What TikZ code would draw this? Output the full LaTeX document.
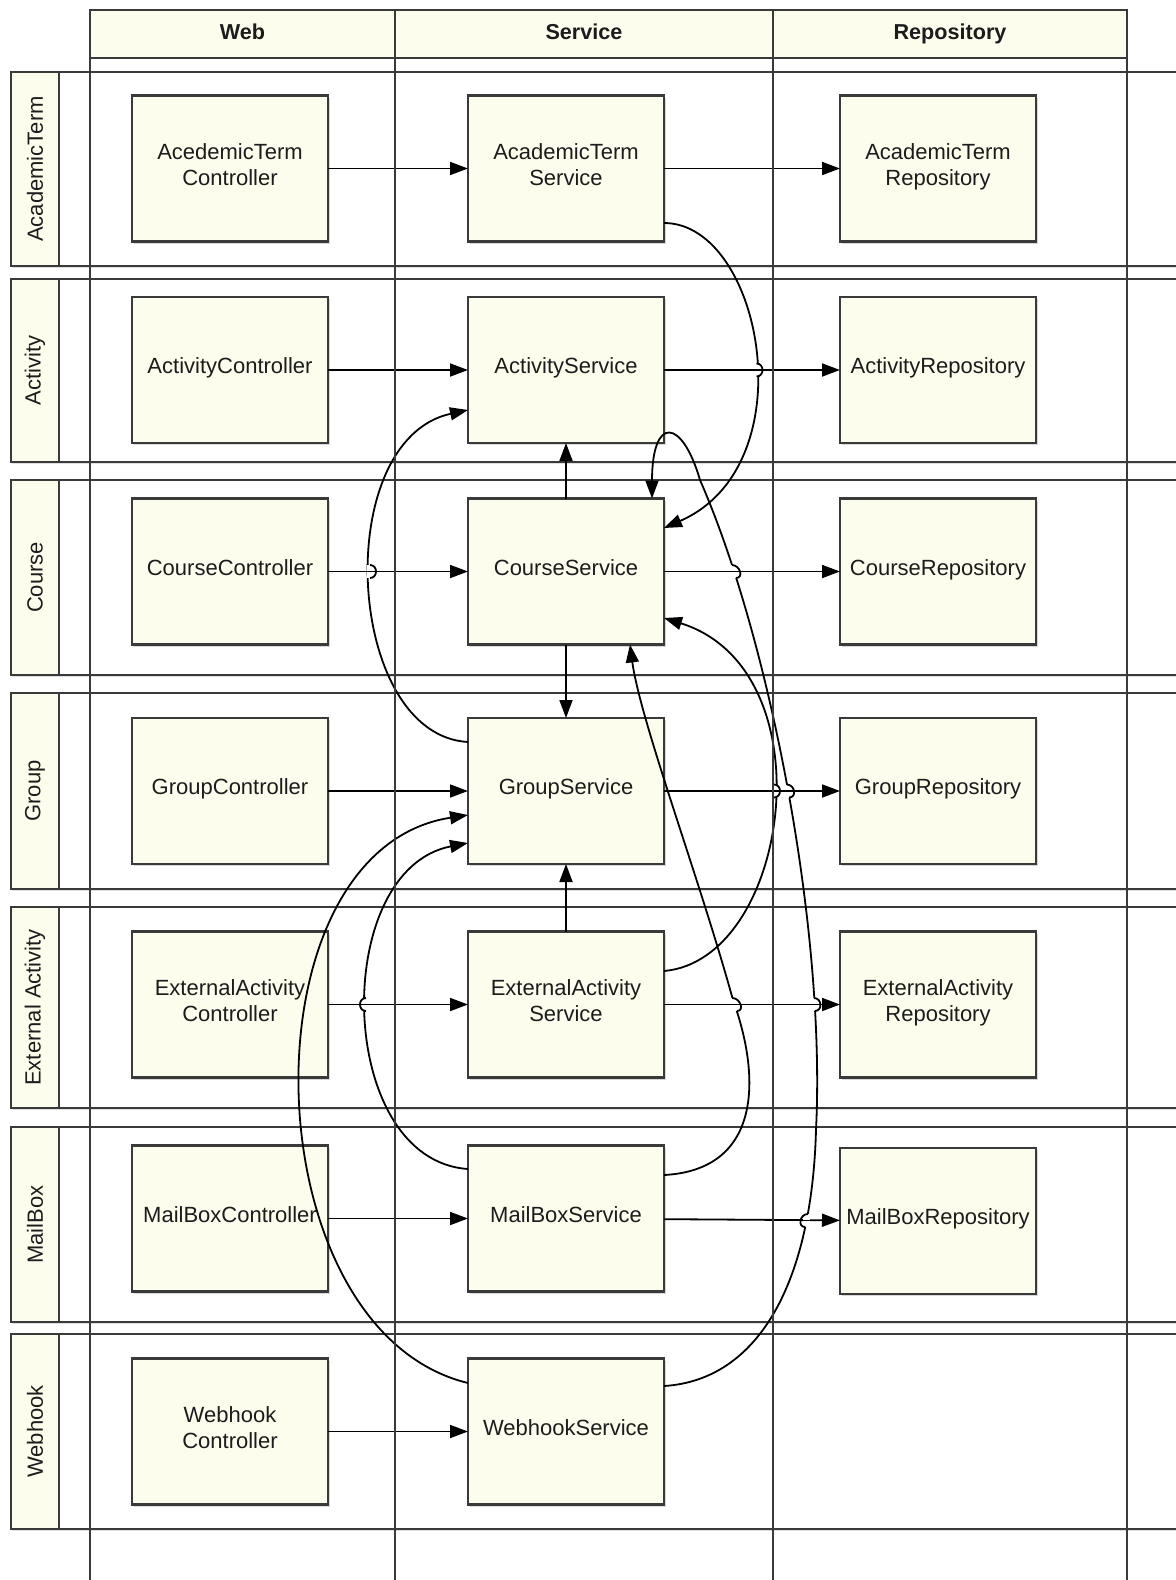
\documentclass[tikz,border=0pt]{standalone}
\usepackage{fontspec}
\setmainfont{Liberation Sans}
\usetikzlibrary{arrows.meta,shadows}

\definecolor{cream}{RGB}{253,253,238}
\definecolor{frame}{RGB}{58,58,58}
\definecolor{ink}{RGB}{28,28,28}

% line jump: #1,#2 = crossing point, #3 = dx/dy of the jumping curve, #4 = side (+1 right, -1 left)
\newcommand\hopmark[4]{%
  \fill[white] ({#1-3.5},{#2-6.5}) rectangle ({#1+3.5},{#2+6.5});
  \draw[wire] ({#1-5},#2) -- ({#1+5},#2);
  \draw[wire] ({#1-6.5*(#3)},{#2-6.5}) .. controls ({#1-6.5*(#3)+8*(#4)},{#2-6.5}) and ({#1+6.5*(#3)+8*(#4)},{#2+6.5}) .. ({#1+6.5*(#3)},{#2+6.5});
}

\begin{document}
\begin{tikzpicture}[x=0.5pt,y=-0.5pt,
  font=\fontsize{11}{13.1}\selectfont, text=ink,
  lane/.style={draw=frame, line width=1pt, fill=white,
    drop shadow={shadow xshift=0.8pt, shadow yshift=-1pt, opacity=0.25}},
  lanetag/.style={draw=frame, line width=1pt, fill=cream},
  comp/.style={draw=frame, line width=1.1pt, fill=cream,
    minimum width=98pt, minimum height=73pt, inner sep=0pt, outer sep=0pt,
    align=center, text depth=4pt,
    drop shadow={shadow xshift=1.2pt, shadow yshift=-1.2pt, opacity=0.3}},
  wire/.style={draw=black, line width=0.9pt},
  flow/.style={wire, -{Triangle[length=9pt,width=6.5pt]}},
  colline/.style={draw=frame, line width=1.1pt},
  headtext/.style={font=\fontsize{10.8}{13}\selectfont\bfseries, text depth=2.3pt}]

\clip (0,0) rectangle (1176,1580);
\fill[white] (0,0) rectangle (1176,1580);

% horizontal swimlanes with their tags
\foreach \t/\b/\lbl [count=\i] in {72/266/AcademicTerm, 279/462/Activity, 480/675/Course,
    693/889/Group, 907/1108/External Activity, 1127/1322/MailBox, 1334/1529/Webhook}{
  \draw[lane] (10.7,\t) rectangle (1200,\b);
  \draw[lanetag] (10.7,\t) rectangle (59.3,\b);
  \node[rotate=90] (lane\i) at (35,{(\t+\b)/2}) {\lbl};
}

% column headers
\draw[colline, fill=cream] (90,10) rectangle (1127,58);
\node[headtext] (hweb)  at (242.5,34) {Web};
\node[headtext] (hsvc)  at (584,34)   {Service};
\node[headtext] (hrepo) at (950,34)   {Repository};

% components
\node[comp] (atc) at (230,168.5) {AcedemicTerm\\Controller};
\node[comp] (ats) at (566,168.5) {AcademicTerm\\Service};
\node[comp] (atr) at (938,168.5) {AcademicTerm\\Repository};

\node[comp] (acc) at (230,370) {ActivityController};
\node[comp] (acs) at (566,370) {ActivityService};
\node[comp] (acr) at (938,370) {ActivityRepository};

\node[comp] (coc) at (230,571.5) {CourseController};
\node[comp] (cos) at (566,571.5) {CourseService};
\node[comp] (cor) at (938,571.5) {CourseRepository};

\node[comp] (grc) at (230,791) {GroupController};
\node[comp] (grs) at (566,791) {GroupService};
\node[comp] (grr) at (938,791) {GroupRepository};

\node[comp] (eac) at (230,1004.5) {ExternalActivity\\Controller};
\node[comp] (eas) at (566,1004.5) {ExternalActivity\\Service};
\node[comp] (ear) at (938,1004.5) {ExternalActivity\\Repository};

\node[comp] (mbc) at (230,1218.5) {MailBoxController};
\node[comp] (mbs) at (566,1218.5) {MailBoxService};
\node[comp] (mbr) at (938,1221) {MailBoxRepository};

\node[comp] (whc) at (230,1431.5) {Webhook\\Controller};
\node[comp] (whs) at (566,1431.5) {WebhookService};

% straight calls
\foreach \a/\b in {atc/ats, ats/atr, acc/acs, acs/acr, coc/cos, cos/cor,
    grc/grs, grs/grr, eac/eas, eas/ear, mbc/mbs, mbs/mbr, whc/whs,
    cos/acs, cos/grs, eas/grs}
  \draw[flow] (\a) -- (\b);

% curved calls between services
\draw[flow] (ats.east |- 0,223) .. controls (762,223) and (808,465) .. (cos.east |- 0,528);
\draw[flow] (whs.east |- 0,1386) .. controls (760,1380) and (812,1280) .. (816,1130)
  .. controls (826,930) and (770,640) .. (700,480)
  .. controls (682,418) and (652,415) .. (cos.north -| 652,0);
\draw[flow] (grs.west |- 0,742) .. controls (345,735) and (330,440) .. (acs.west |- 0,410);
\draw[flow] (eas.east |- 0,971) .. controls (790,960) and (830,670) .. (cos.east |- 0,618);
\draw[flow] (mbs.east |- 0,1175) .. controls (760,1170) and (762,1080) .. (733,1000)
  .. controls (700,880) and (640,720) .. (cos.south -| 630,0);
\draw[flow] (mbs.west |- 0,1169) .. controls (335,1160) and (330,870) .. (grs.west |- 0,843);
\draw[flow] (whs.west |- 0,1383) .. controls (250,1330) and (240,850) .. (grs.west |- 0,815);

% line jumps where curves cross straight calls
\hopmark{756.5}{370}{0}{1}
\hopmark{370}{571.5}{0}{1}
\hopmark{734}{571.5}{0.32}{1}
\hopmark{774}{791}{0}{1}
\hopmark{788}{791}{0.18}{1}
\hopmark{366}{1004.5}{0}{-1}
\hopmark{734.6}{1004.5}{0.36}{1}
\hopmark{814.4}{1004.5}{0.06}{1}
\hopmark{806.5}{1220.5}{-0.2}{-1}

% column frames
\foreach \x in {90,395,773,1127}
  \draw[colline] (\x,10) -- (\x,1600);
\draw[colline] (90,58) -- (1127,58);
\end{tikzpicture}
\end{document}
